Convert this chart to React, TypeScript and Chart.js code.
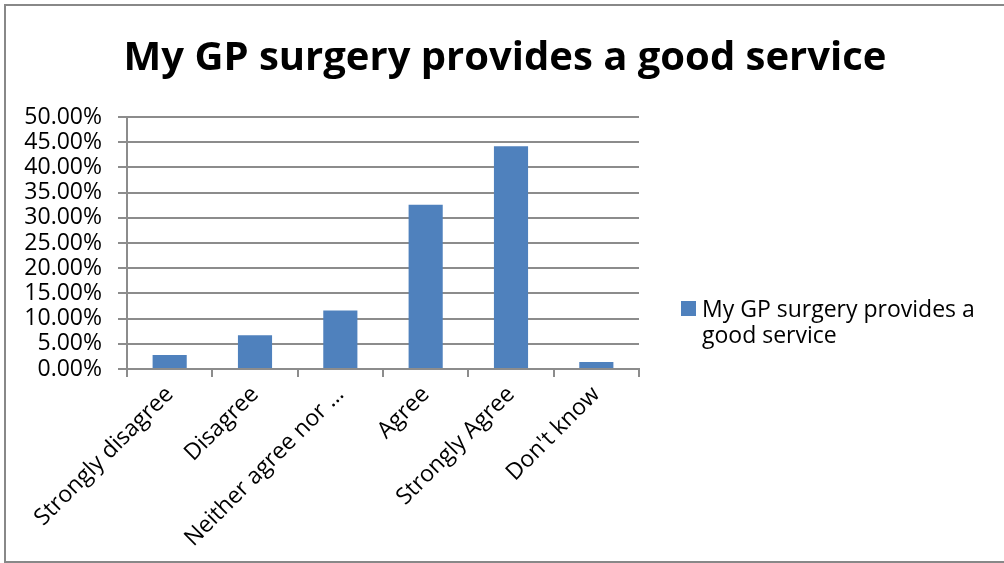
import React, { useEffect, useRef } from "react";
import { Chart, registerables } from "chart.js";

Chart.register(...registerables);

const TITLE = "My GP surgery provides a good service";
const SERIES_NAME = "My GP surgery provides a good service";
const LEGEND_LINES = ["My GP surgery provides a", "good service"];
const CATEGORIES = [
  "Strongly disagree",
  "Disagree",
  "Neither agree nor …",
  "Agree",
  "Strongly Agree",
  "Don't know",
];
const VALUES = [2.8, 6.7, 11.6, 32.6, 44.2, 1.4];
const Y_MAX = 50;
const Y_STEP = 5;

const FONT = "'Open Sans', sans-serif";
const BAR_COLOR = "#4F81BD";
const GRID_COLOR = "#8C8C8C";

const decorPlugin = {
  id: "decor",
  afterDraw(chart: any) {
    const ctx = chart.ctx;
    ctx.save();
    // outer frame
    ctx.strokeStyle = "#888888";
    ctx.lineWidth = 2;
    ctx.strokeRect(5, 5, 1010, 557);
    // title
    ctx.fillStyle = "#000000";
    ctx.font = `bold 40px ${FONT}`;
    ctx.textAlign = "center";
    ctx.textBaseline = "alphabetic";
    ctx.fillText(TITLE, 505, 70);
    // legend
    ctx.fillStyle = BAR_COLOR;
    ctx.fillRect(681, 301, 15, 15);
    ctx.fillStyle = "#000000";
    ctx.font = `23px ${FONT}`;
    ctx.textAlign = "left";
    ctx.fillText(LEGEND_LINES[0], 702, 317);
    ctx.fillText(LEGEND_LINES[1], 702, 343);
    ctx.restore();
  },
};

export default function App() {
  const ref = useRef<HTMLCanvasElement>(null);
  useEffect(() => {
    document.body.style.margin = "0";
    const chart = new Chart(ref.current!, {
      type: "bar",
      data: {
        labels: CATEGORIES,
        datasets: [
          {
            label: SERIES_NAME,
            data: VALUES,
            backgroundColor: BAR_COLOR,
            categoryPercentage: 0.8,
            barPercentage: 0.5,
          },
        ],
      },
      options: {
        animation: false,
        responsive: false,
        layout: { padding: { left: 0, right: 365, top: 117, bottom: 0 } },
        plugins: {
          legend: { display: false },
          title: { display: false },
          tooltip: { enabled: false },
        },
        scales: {
          x: {
            afterFit: (s: any) => {
              s.height = 194;
            },
            grid: {
              display: true,
              drawOnChartArea: false,
              drawTicks: true,
              tickLength: 8,
              color: GRID_COLOR,
              lineWidth: 2,
              offset: true,
            },
            border: { display: true, color: GRID_COLOR, width: 2 },
            ticks: {
              minRotation: 45,
              maxRotation: 45,
              autoSkip: false,
              color: "#000000",
              padding: 4,
              font: { family: FONT, size: 23 },
            },
          },
          y: {
            min: 0,
            max: Y_MAX,
            afterFit: (s: any) => {
              s.width = 127;
            },
            grid: {
              color: GRID_COLOR,
              lineWidth: 2,
              drawTicks: true,
              tickLength: 9,
            },
            border: { display: true, color: GRID_COLOR, width: 2 },
            ticks: {
              stepSize: Y_STEP,
              autoSkip: false,
              color: "#000000",
              padding: 16,
              font: { family: FONT, size: 23 },
              callback: (v: any) => Number(v).toFixed(2) + "%",
            },
          },
        },
      },
      plugins: [decorPlugin],
    });
    return () => chart.destroy();
  }, []);
  return (
    <div style={{ position: "absolute", left: 0, top: 0, width: 1004, height: 563, background: "#fff" }}>
      <canvas ref={ref} width={1004} height={563} />
    </div>
  );
}
